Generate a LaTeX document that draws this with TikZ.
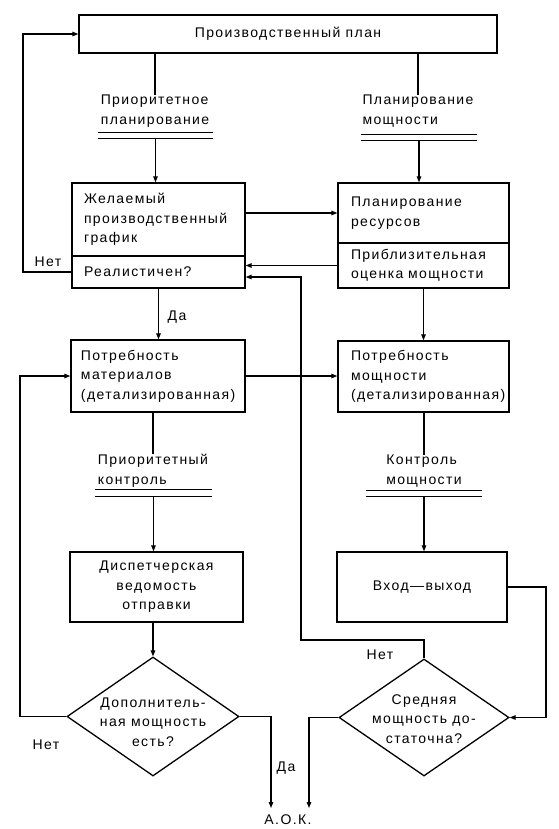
\documentclass[tikz,border=0pt]{standalone}
\usepackage{fontspec}
\setmainfont{Liberation Sans}[LetterSpace=10]
\usetikzlibrary{arrows.meta,shapes.geometric,calc}
\hyphenpenalty=10000
\exhyphenpenalty=10000
\begin{document}
\begin{tikzpicture}[x=1bp,y=-1bp,
  every node/.style={font=\fontsize{14bp}{19.5bp}\selectfont, inner sep=0pt},
  box/.style={draw, line width=1.3bp, align=left},
  cbox/.style={draw, line width=1.3bp, align=center},
  dia/.style={draw, diamond, line width=1.3bp, inner sep=0pt},
  lbl/.style={align=left},
  bar/.style={minimum height=5bp},
  ln/.style={line width=1.2bp},
  arr/.style={line width=1.2bp, -{Triangle[length=6bp,width=4.5bp]}}
]
\path[use as bounding box, fill=white] (0,0) rectangle (559,829);

% boxes
\node[cbox, minimum width=418bp, minimum height=38bp] (plan) at (288,34) {Производственный план};
\node[box, text width=149bp, inner xsep=12bp, minimum height=73bp] (des) at (158.5,219.5) {Желаемый\\производственный\\график};
\node[box, text width=149bp, inner xsep=12bp, minimum height=32bp] (real) at (158.5,272) {Реалистичен?};
\node[box, text width=145bp, inner xsep=13bp, minimum height=60bp] (res) at (423.5,213) {Планирование\\ресурсов};
\node[box, text width=145bp, inner xsep=13bp, minimum height=45bp] (est) at (423.5,265.5) {Приблизительная\\оценка мощности};
\node[box, text width=154bp, inner xsep=10bp, minimum height=72bp] (mat) at (158,376) {Потребность\\материалов\\(детализированная)};
\node[box, text width=145bp, inner xsep=13bp, minimum height=71bp] (cap) at (423.5,376.5) {Потребность\\мощности\\(детализированная)};
\node[cbox, minimum width=173bp, minimum height=70bp] (disp) at (156.5,587) {Диспетчерская\\ведомость\\отправки};
\node[cbox, minimum width=170bp, minimum height=70bp] (io) at (422,587) {Вход---выход};
\node[dia, minimum width=172bp, minimum height=119bp] (d1) at (153,716.5) {};
\node[align=center] (d1t) at (153,722) {Дополнитель-\\ная мощность\\есть?};
\node[dia, minimum width=170bp, minimum height=117bp] (d2) at (424,717.5) {};
\node[align=center] (d2t) at (424,719) {Средняя\\мощность до-\\статочна?};

% labels
\node[lbl] (lblA) at (155,111) {Приоритетное\\планирование};
\node[bar, minimum width=115bp] (barA) at (155.5,135.5) {};
\node[lbl] (lblB) at (418,111) {Планирование\\мощности};
\node[bar, minimum width=116bp] (barB) at (419,137.5) {};
\node[lbl] (lblC) at (153,471) {Приоритетный\\контроль};
\node[bar, minimum width=117bp, minimum height=6bp] (barC) at (153.5,493) {};
\node[lbl] (lblD) at (424,471) {Контроль\\мощности};
\node[bar, minimum width=116bp] (barD) at (424,493.5) {};

\foreach \b in {barA,barB,barC,barD}{
  \draw[line width=1.3bp] (\b.north west) -- (\b.north east);
  \draw[line width=1.3bp] (\b.south west) -- (\b.south east);
}

\node (no1) at (48,262) {Нет};
\node (yes1) at (177,317) {Да};
\node (no2) at (380,655) {Нет};
\node (no3) at (46,745) {Нет};
\node (yes2) at (286,768) {Да};
\node (aok) at (288,820) {А.О.К.};

% coordinates
\coordinate (lt) at (23,272);
\coordinate (lb) at (20,716.5);
\coordinate (j1) at (301,640);
\coordinate (rr) at (546,587);
\coordinate (aokL) at (271,808);
\coordinate (aokR) at (309,808);

% connectors
\draw[ln] (plan.south -| lblA.north) -- (lblA.north);
\draw[arr] (barA.south) -- (barA.south |- des.north);
\draw[ln] (plan.south -| lblB.north) -- (lblB.north);
\draw[arr] (barB.south) -- (barB.south |- res.north);
\draw[arr] (des.east |- res.west) -- (res.west);
\draw[arr] (est.west) -- (est.west -| real.east);
\draw[arr] (d2.north) |- (j1) |- ([yshift=-5bp]real.east);
\draw[arr] (real.west) -- (lt) |- (plan.west);
\draw[arr] (real.south) -- (real.south |- mat.north);
\draw[arr] (est.south) -- (est.south |- cap.north);
\draw[arr] (mat.east) -- (mat.east -| cap.west);
\draw[arr] (d1.west) -- (lb) |- (mat.west);
\draw[ln] (mat.south -| lblC.north) -- (lblC.north);
\draw[arr] (barC.south) -- (barC.south |- disp.north);
\draw[ln] (cap.south -| lblD.north) -- (lblD.north);
\draw[arr] (barD.south) -- (barD.south |- io.north);
\draw[arr] (disp.south -| d1.north) -- (d1.north);
\draw[arr] (io.east) -- (rr) |- (d2.east);
\draw[arr] (d1.east) -| (aokL);
\draw[arr] (d2.west) -| (aokR);
\end{tikzpicture}
\end{document}
